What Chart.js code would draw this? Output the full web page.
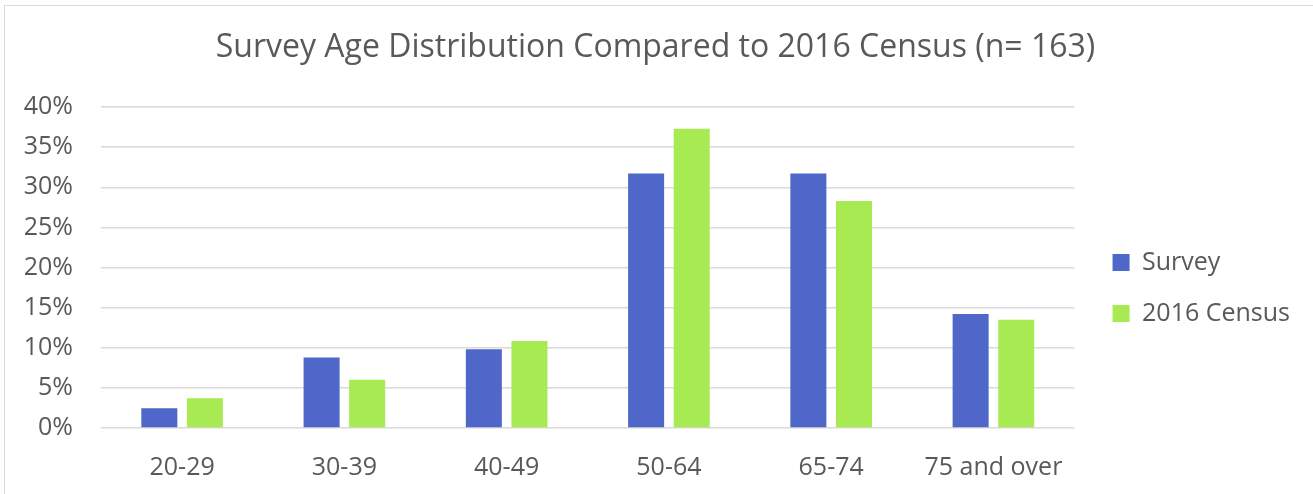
<!DOCTYPE html>
<html>
<head>
<meta charset="utf-8">
<title>Survey Age Distribution Compared to 2016 Census</title>
<script src="https://cdn.jsdelivr.net/npm/chart.js@4/dist/chart.umd.min.js"></script>
<style>
  html, body { margin: 0; padding: 0; background: #ffffff; overflow: hidden; }
  #wrap { position: relative; width: 1313px; height: 494px; }
  #frame {
    position: absolute; left: 4px; top: 5px; width: 1400px; height: 600px;
    border-left: 1.5px solid #d9d9d9; border-top: 1.5px solid #d9d9d9;
  }
  canvas { position: absolute; left: 0; top: 0; }
</style>
</head>
<body>
<div id="wrap">
  <div id="frame"></div>
  <canvas id="chart" width="1313" height="494"></canvas>
</div>
<script>
// Age groups and shares (in percent)
const categories = ['20-29', '30-39', '40-49', '50-64', '65-74', '75 and over'];
const surveyValues = [2.45, 8.8, 9.8, 31.7, 31.7, 14.2];
const censusValues = [3.7, 6.0, 10.85, 37.3, 28.3, 13.5];
const seriesNames = ['Survey', '2016 Census'];
const yTicks = [0, 5, 10, 15, 20, 25, 30, 35, 40];
const chartTitle = 'Survey Age Distribution Compared to 2016 Census (n= 163)';

const textColor = '#595959';
const gridColor = '#d9d9d9';
const fontFamily = '"Open Sans", "Liberation Sans", sans-serif';

// Shifts the legend box after layout
const legendNudge = {
  id: 'legendNudge',
  afterLayout(chart, args, opts) {
    const lg = chart.legend;
    if (!lg || !opts) return;
    const dx = opts.x || 0, dy = opts.y || 0;
    lg.left += dx; lg.right += dx;
    lg.top += dy; lg.bottom += dy;
  }
};

new Chart(document.getElementById('chart'), {
  type: 'bar',
  data: {
    labels: categories,
    datasets: [
      {
        label: seriesNames[0],
        data: surveyValues,
        backgroundColor: '#4e67c8',
        borderWidth: 0,
        categoryPercentage: 0.562,
        barPercentage: 0.79
      },
      {
        label: seriesNames[1],
        data: censusValues,
        backgroundColor: '#a7ea52',
        borderWidth: 0,
        categoryPercentage: 0.562,
        barPercentage: 0.79
      }
    ]
  },
  plugins: [legendNudge],
  options: {
    responsive: false,
    animation: false,
    devicePixelRatio: 1,
    layout: { padding: { left: 23, right: 25, top: 0, bottom: 0 } },
    plugins: {
      title: {
        display: true,
        text: chartTitle,
        color: textColor,
        font: { family: fontFamily, size: 32, weight: 'normal', lineHeight: 1.2 },
        padding: { top: 29, bottom: 39.6 }
      },
      legend: {
        display: true,
        position: 'right',
        align: 'center',
        labels: {
          color: textColor,
          font: { family: fontFamily, size: 25 },
          boxWidth: 17,
          boxHeight: 17,
          padding: 26
        }
      },
      legendNudge: { x: 12, y: 41 },
      tooltip: { enabled: false }
    },
    scales: {
      x: {
        grid: { display: false },
        border: { display: false },
        afterFit(scale) { scale.height = 66; },
        ticks: {
          color: textColor,
          font: { family: fontFamily, size: 25, lineHeight: 0.24 },
          padding: 29,
          maxRotation: 0,
          autoSkip: false
        }
      },
      y: {
        min: yTicks[0],
        max: yTicks[yTicks.length - 1],
        afterBuildTicks(scale) {
          scale.ticks = yTicks.map(v => ({ value: v }));
        },
        afterFit(scale) { scale.width = 78; },
        grid: { color: gridColor, lineWidth: 1.5, drawTicks: false },
        border: { display: false },
        ticks: {
          color: textColor,
          font: { family: fontFamily, size: 25 },
          padding: 28,
          callback: v => v + '%'
        }
      }
    }
  }
});
</script>
</body>
</html>
